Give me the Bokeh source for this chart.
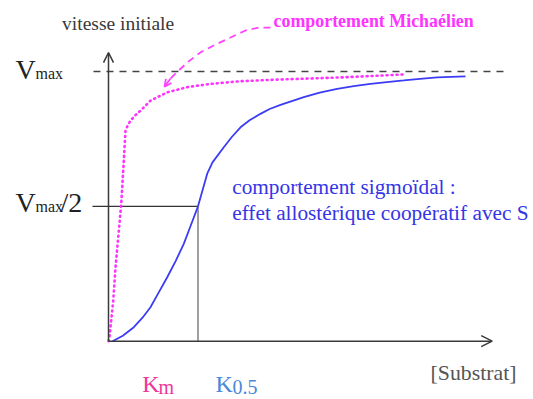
from bokeh.plotting import figure
from bokeh.models import Range1d, Arrow, OpenHead
from bokeh.core.properties import value
from bokeh.embed import file_html
from bokeh.resources import INLINE

# ---- data (substrate concentration, v / Vmax) ----
VMAX = 1.0
HALF = 0.5
K05 = 1.0

# sigmoid (allosteric, cooperative) curve
sig_s = [0.045, 0.16, 0.283, 0.38, 0.469, 0.56, 0.656, 0.75, 0.841, 0.92, 1.0,
         1.103, 1.162, 1.288, 1.38, 1.475, 1.58, 1.698, 1.80, 1.922, 2.182,
         2.36, 2.555, 2.74, 2.927, 3.11, 3.299, 3.48, 3.673, 3.989]
sig_v = [0.0, 0.02, 0.052, 0.087, 0.126, 0.18, 0.237, 0.297, 0.361, 0.43, 0.5,
         0.621, 0.663, 0.719, 0.758, 0.793, 0.82, 0.843, 0.861, 0.876, 0.905,
         0.922, 0.936, 0.946, 0.954, 0.961, 0.967, 0.973, 0.978, 0.982]

# Michaelis-Menten (hyperbolic) curve
mm_s = [0.0, 0.011, 0.053, 0.078, 0.11, 0.142, 0.171, 0.190, 0.215, 0.246,
        0.30, 0.358, 0.469, 0.656, 0.879, 1.140, 1.475, 1.885, 2.592, 3.296]
mm_v = [0.0, 0.015, 0.151, 0.274, 0.39, 0.509, 0.670, 0.781, 0.80, 0.818,
        0.838, 0.855, 0.892, 0.923, 0.942, 0.954, 0.964, 0.970, 0.978, 0.989]

# curved pointer from the "Michaélien" label to its curve
ptr_s = [1.810, 1.676, 1.531, 1.363, 1.196, 1.028, 0.894, 0.782, 0.693, 0.626]
ptr_v = [1.163, 1.163, 1.152, 1.126, 1.100, 1.071, 1.037, 1.003, 0.974, 0.944]

# axis extents
X_END = 4.287
Y_END = 1.07
VMAX_LINE = [-0.168, 4.436]
HALF_LINE_START = -0.179

FONT = value("Liberation Serif")

p = figure(width=533, height=399, output_backend="svg", toolbar_location=None,
           x_range=Range1d(-1.2067, 4.7486), y_range=Range1d(-0.2162, 1.2633),
           x_axis_location=None, y_axis_location=None, min_border=0)
p.outline_line_color = None
p.grid.visible = False
p.background_fill_color = "white"
p.border_fill_color = "white"

AX = "#3a3a3a"

# axes with arrow heads
p.add_layout(Arrow(x_start=0, y_start=0, x_end=X_END, y_end=0,
                   line_color=AX, line_width=1.5,
                   end=OpenHead(size=11, line_color=AX, line_width=1.5)))
p.add_layout(Arrow(x_start=0, y_start=0, x_end=0, y_end=Y_END,
                   line_color=AX, line_width=1.5,
                   end=OpenHead(size=10, line_color=AX, line_width=1.5)))

# Vmax dashed line
p.line(VMAX_LINE, [VMAX, VMAX], line_color="#444444", line_width=1.6, line_dash="7 6")
# Vmax/2 and K0.5 guides
p.line([HALF_LINE_START, K05], [HALF, HALF], line_color="#333333", line_width=1.4)
p.line([K05, K05], [HALF, 0], line_color="#777777", line_width=1.4)

# curves
p.line(mm_s, mm_v, line_color="#ff33ff", line_width=2.6, line_dash="1 4", line_cap="round")
p.line(sig_s, sig_v, line_color="#3c3cf5", line_width=1.8)

# pointer
p.line(ptr_s[:-1], ptr_v[:-1], line_color="#ff44ff", line_width=1.8, line_dash="7 5")
p.add_layout(Arrow(x_start=ptr_s[-2], y_start=ptr_v[-2], x_end=ptr_s[-1], y_end=ptr_v[-1],
                   line_color="#ff44ff", line_width=1.8,
                   end=OpenHead(size=7, line_color="#ff44ff", line_width=1.8)))

# texts (all vertically centred)
def txt(x, y, s, size, color, style="normal"):
    p.text(x=[x], y=[y], text=[s], text_font=FONT, text_font_size=size,
           text_color=color, text_baseline="middle", text_align="left",
           text_font_style=style)

txt(-0.519, 1.178, "vitesse initiale", "19.5px", "#3a3a3a")
txt(1.844, 1.187, "comportement Michaélien", "17.9px", "#ff33ff", "bold")

txt(-1.039, 1.007, "V", "28px", "#222222")
txt(-0.816, 0.993, "max", "16px", "#222222")
txt(-1.039, 0.513, "V", "28px", "#222222")
txt(-0.816, 0.499, "max", "16px", "#222222")
txt(-0.536, 0.513, "/2", "28px", "#222222")

txt(1.382, 0.572, "comportement sigmoïdal :", "21.3px", "#3535e6")
txt(1.382, 0.4735, "effet allostérique coopératif avec S", "21.3px", "#3535e6")

txt(3.598, -0.1187, "[Substrat]", "21.8px", "#555555")

txt(0.376, -0.157, "K", "24px", "#f0369a")
txt(0.559, -0.170, "m", "20px", "#f0369a")
txt(1.196, -0.157, "K", "24px", "#4a88d8")
txt(1.385, -0.170, "0.5", "20px", "#4a88d8")

open("out.html", "w").write(file_html(p, INLINE))
